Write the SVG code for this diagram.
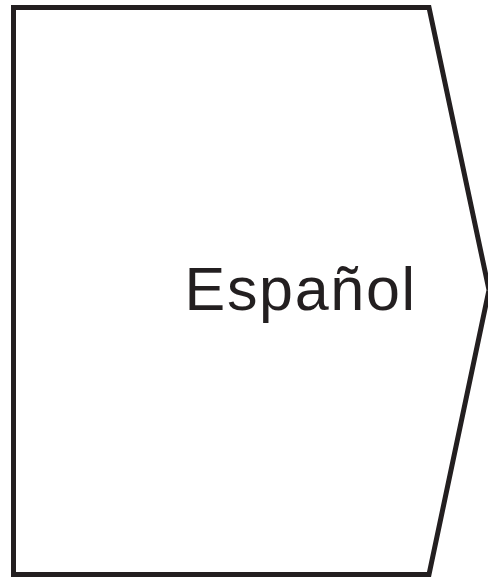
<svg xmlns="http://www.w3.org/2000/svg" width="488" height="577" viewBox="0 0 488 577">
<style>
.shape{fill:#fff;stroke:#231f20;stroke-width:5;stroke-linejoin:miter}
.label{font-family:"Liberation Sans",Arial,sans-serif;font-size:61px;letter-spacing:1.7px;fill:#231f20}
</style>
<rect width="488" height="577" fill="#fff"/>
<g id="node-espanol">
<polygon class="shape" points="13.5,7.5 429,7.5 489,290 429,574.5 13.5,574.5"/>
<text class="label" x="184.5" y="309.5">Español</text>
</g>
<g id="connectors"/>
</svg>
